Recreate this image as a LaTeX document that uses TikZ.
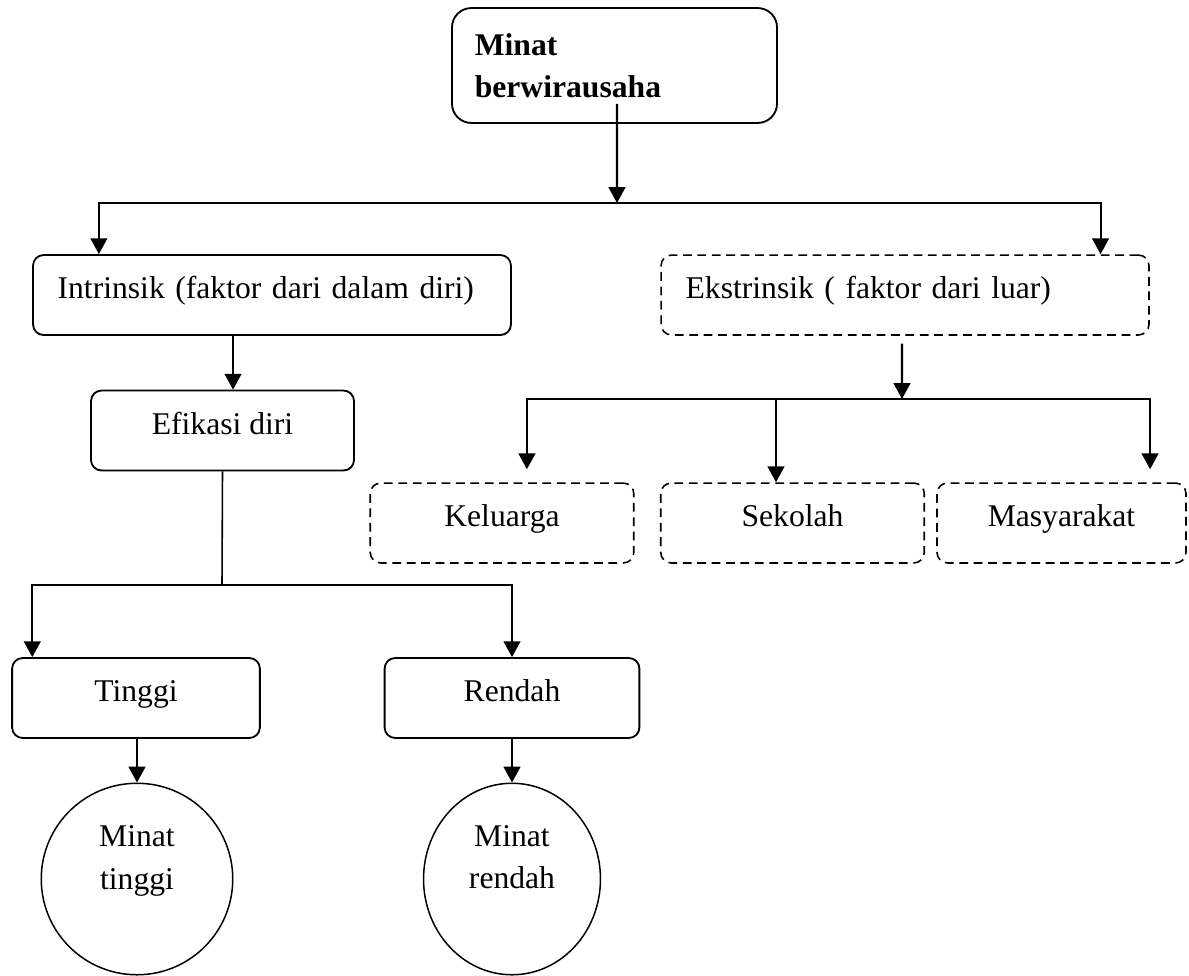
\documentclass[tikz,border=0pt]{standalone}
\usepackage{fontspec}
\setmainfont{Liberation Serif}
\usetikzlibrary{arrows.meta,shapes.geometric}

\begin{document}
\begin{tikzpicture}[x=0.02cm, y=-0.02cm,
   font=\fontsize{18pt}{24pt}\selectfont,
   base/.style={draw, rounded corners=6pt, line width=1.05pt, inner xsep=0pt},
   box/.style={base, minimum height=45.5pt, text height=14pt, text depth=9.6pt},
   dbox/.style={box, dash pattern=on 5pt off 3.2pt, line width=0.9pt},
   lbox/.style={align=left, inner xsep=14pt},
   circ/.style={draw, ellipse, line width=0.85pt, inner sep=0pt},
   arr/.style={line width=1.2pt, -{Triangle[length=9pt,width=9.5pt]}},
   link/.style={line width=0.9pt}]
   \useasboundingbox (0,0) rectangle (1189,975);

   % Top box
   \node[base, rounded corners=11pt, align=left, inner xsep=13pt, text width=159pt,
         minimum height=65.4pt, font=\fontsize{18pt}{24pt}\selectfont\bfseries]
         (minat) at (614.5,65.5) {Minat\\berwirausaha};

   % Intrinsik side
   \node[box, lbox, text width=244pt] (intr) at (272,295) {Intrinsik (faktor dari dalam diri)};
   \node[box, minimum width=149.7pt] (efi) at (222.5,430.5) {Efikasi diri};
   \node[box, minimum width=141pt] (ting) at (136,698) {Tinggi};
   \node[box, minimum width=145pt] (rend) at (512,698) {Rendah};
   \node[circ, minimum width=109pt, minimum height=109pt] (mtinggi) at (137,879) {};
   \node[align=center] (mtinggitxt) at (137,861) {Minat\\tinggi};
   \node[circ, minimum width=100.7pt, minimum height=109pt] (mrendah) at (512,879) {};
   \node[align=center] (mrendahtxt) at (512,857) {Minat\\rendah};

   % Ekstrinsik side
   \node[dbox, lbox, text width=249.7pt] (ekst) at (905,295) {Ekstrinsik ( faktor dari luar)};
   \node[dbox, minimum width=150pt] (kel) at (502,523) {Keluarga};
   \node[dbox, minimum width=150pt] (sek) at (792.5,523) {Sekolah};
   \node[dbox, minimum width=141.7pt] (mas) at (1061.5,523) {Masyarakat};

   % First split
   \coordinate (b1) at (617,203);
   \draw[arr] ([xshift=1.4pt,yshift=11.4pt]minat.south) -- (b1);
   \draw[arr] (b1) -| ([xshift=38pt]intr.north west);
   \draw[arr] (b1) -| ([xshift=-28pt]ekst.north east);

   % Intrinsik branch
   \draw[arr] ([xshift=6pt]efi.north |- intr.south) -- ([xshift=6pt]efi.north);
   \coordinate (b2) at (222,585);
   \draw[link] (efi.south) -- (b2);
   \draw[arr] (b2) -| ([xshift=12pt]ting.north west);
   \draw[arr] (b2) -| (rend.north);
   \draw[arr] (mtinggi.north |- ting.south) -- (mtinggi.north);
   \draw[arr] (mrendah.north |- rend.south) -- (mrendah.north);

   % Ekstrinsik branch
   \coordinate (b3) at (902,399);
   \draw[arr] ([xshift=-1.7pt,yshift=-4.5pt]ekst.south) -- (b3);
   \draw[arr] (b3) -| ([xshift=14.2pt,yshift=7.4pt]kel.north);
   \draw[arr] (b3) -| ([xshift=-9.4pt]sek.north);
   \draw[arr] (b3) -| ([xshift=50.4pt,yshift=7.4pt]mas.north);
\end{tikzpicture}
\end{document}
